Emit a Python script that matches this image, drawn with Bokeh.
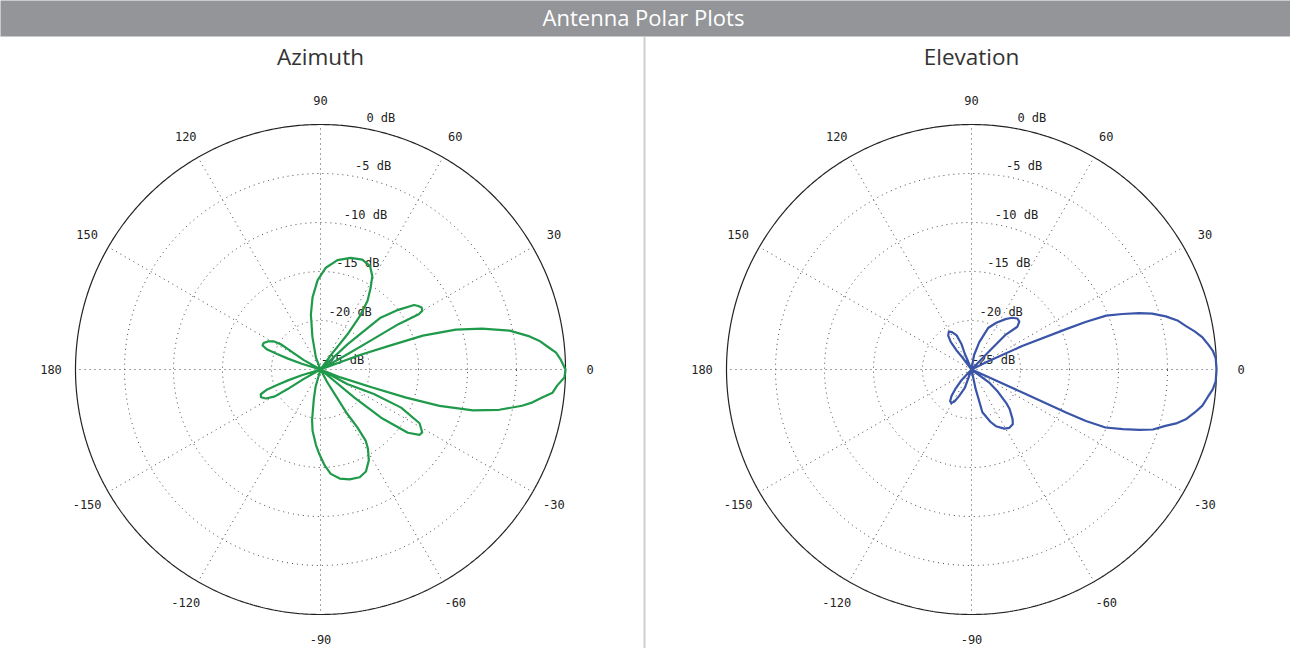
import numpy as np
from bokeh.plotting import figure
from bokeh.models import Range1d
from bokeh.embed import file_html
from bokeh.resources import INLINE
from bokeh.core.properties import value

# ---------------- data ----------------
chart_title = "Antenna Polar Plots"
panel_titles = ["Azimuth", "Elevation"]

ring_db = [0, -5, -10, -15, -20, -25]
ring_labels = ["0 dB", "-5 dB", "-10 dB", "-15 dB", "-20 dB", "-25 dB"]
spoke_angles = [0, 30, 60, 90, 120, 150, 180, 210, 240, 270, 300, 330]
angle_labels = ["0", "30", "60", "90", "120", "150", "180", "-150", "-120", "-90", "-60", "-30"]

# Azimuth pattern traced along the drawn path (angle in degrees, level in dB)
az_angle = [-175,
            -163, -161.5, -160.4, -159.5, -157.5, -155, -152, -149.5, -149.2, -150.5,
            -140,
            -106, -102.7, -99.5, -97.4, -93.5, -90.9, -87.5, -84.4, -80, -75.2, -70, -66, -62, -59,
            -57.6, -57.5, -58.9, -60, -62,
            -50,
            -39.7, -38.5, -35.9, -33.5, -31.7, -28.5, -25.3, -24.7, -28.6,
            -25,
            -21.5, -19.1, -18.2, -17.0, -15.0, -12.7, -10.2, -8.8, -7.2, -5.7, -3.9, -1.9, 0,
            2.5, 4.1, 5.5, 7.5, 9.0, 11.6, 14.2, 16.4, 18.3, 19.0, 20.3,
            25,
            29.5, 29.8, 30.2, 29.3, 30.0, 31.5, 33.0, 34.6, 37.5, 40.8, 43.0,
            47,
            54, 52.5, 53.5, 55.6, 58.5, 61, 64.4, 69.2, 74.9, 81.2, 87, 91.9, 96.3, 99.9, 104, 111,
            120,
            150.5, 148, 147.5, 149, 152, 155, 157.5, 159.5, 160.4, 161.5, 163,
            175]
az_db = [-25,
         -23.0, -21.5, -20.3, -19.2, -18.4, -18.3, -18.7, -19.6, -21.1, -23.0,
         -25,
         -23.2, -21.9, -19.8, -18.7, -17.3, -16.4, -15.2, -14.3, -13.7, -13.4, -13.3, -13.6, -14.5, -15.6,
         -16.4, -18.0, -19.7, -22.0, -23.5,
         -25,
         -20.5, -17.1, -14.0, -12.9, -12.8, -13.5, -15.9, -19.0, -21.9,
         -25,
         -22.8, -19.4, -15.8, -12.3, -8.9, -6.3, -4.1, -3.1, -2.2, -1.2, -0.8, -0.1, 0,
         -0.5, -0.9, -1.6, -2.5, -3.4, -5.3, -8.0, -10.6, -14.0, -17.6, -20.8,
         -25,
         -22.0, -19.8, -15.8, -13.5, -13.0, -12.9, -13.1, -13.4, -15.0, -16.9, -21.2,
         -25,
         -23.0, -20.5, -18.3, -16.5, -15.2, -14.1, -13.3, -13.0, -13.2, -13.7, -14.6, -15.9, -17.6, -19.3, -21.6, -23.7,
         -25,
         -23.0, -21.3, -20.2, -19.4, -18.9, -18.6, -18.6, -19.2, -20.3, -21.5, -23.0,
         -25]

# Elevation pattern traced along the drawn path
el_angle = [-180,
            -133, -130, -127, -124, -121, -118, -115, -110,
            -95,
            -78, -75.7, -70, -66.7, -61, -57, -53, -50.5, -46, -43.9, -40, -36.3,
            -30,
            -24.3, -24.3, -24.5, -24.2, -23.4, -21.5, -19.8, -18.3, -16.2, -14.6, -13.1, -10.9, -8.9, -6.5, -4.7, -2.8, 0,
            2.6, 4.4, 6.0, 7.9, 9.7, 11.5, 13.4, 15.3, 17.2, 18.6, 20.2, 21.8, 22.6, 23.1, 24.9, 26.1,
            35,
            46, 45.5, 43, 45, 48, 52, 56, 62, 68, 74, 80,
            95,
            113, 111.5, 113.5, 117.5, 121, 124.5, 127, 128, 127,
            150, 180]
el_db = [-25,
         -23.5, -22.5, -21.6, -21.1, -21.0, -21.3, -22.0, -23.0,
         -25,
         -23.0, -20.5, -19.3, -18.7, -18.1, -17.9, -18.0, -18.4, -19.4, -20.1, -21.5, -22.8,
         -25,
         -23.0, -19.3, -14.4, -12.2, -10.1, -8.4, -6.8, -5.5, -4.4, -3.3, -2.55, -1.8, -1.15, -0.7, -0.3, -0.05, 0,
         -0.05, -0.3, -0.7, -1.2, -1.9, -2.7, -3.4, -4.45, -5.7, -6.95, -8.6, -10.2, -12.4, -14.5, -19.3, -23.4,
         -25,
         -22.4, -20.0, -18.6, -18.1, -18.0, -18.3, -18.8, -19.6, -20.4, -22.1, -23.5,
         -25,
         -23.2, -22.2, -21.2, -20.7, -20.5, -20.8, -21.5, -22.5, -23.5,
         -25, -25]

# ---------------- layout / style ----------------
PAGE_OFF = 8
W, H = 1290, 648
DB_MIN, DB_MAX = -25.0, 0.0
R_PX = 245.0
CENTERS = [(328.0, 377.0), (979.0, 377.0)]
COLORS = ["#1f9a4a", "#3a55a8"]
MONO = value("DejaVu Sans Mono")
SANS = value("Open Sans")

p = figure(width=W, height=H,
           x_range=Range1d(PAGE_OFF, PAGE_OFF + W),
           y_range=Range1d(PAGE_OFF + H, PAGE_OFF),
           output_backend="svg", toolbar_location=None,
           x_axis_location=None, y_axis_location=None, min_border=0)
p.xgrid.visible = False
p.ygrid.visible = False
p.outline_line_color = None
p.background_fill_color = "white"
p.border_fill_color = "white"


def polar_xy(c, ang_deg, db):
    a = np.radians(np.asarray(ang_deg, dtype=float))
    d = np.clip(np.asarray(db, dtype=float), DB_MIN, DB_MAX)
    r = (d - DB_MIN) / (DB_MAX - DB_MIN) * R_PX
    return c[0] + r * np.cos(a), c[1] - r * np.sin(a)


# header bar
p.quad(left=[4], right=[1302], top=[4], bottom=[44], fill_color="#939598", line_color="#c9cacc", line_width=1)
p.text(x=[651], y=[24.5], text=[chart_title], text_color="white", text_font=SANS,
       text_font_size="22px", text_align="center", text_baseline="middle")

# panel borders
p.segment(x0=[5, 652, 1300], y0=[44, 44, 44], x1=[5, 652, 1300], y1=[664, 664, 664],
          line_color="#cfcfcf", line_width=2)

circ = np.linspace(0, 360, 721)
patterns = [(az_angle, az_db), (el_angle, el_db)]

for i, c in enumerate(CENTERS):
    # title
    p.text(x=[c[0]], y=[64], text=[panel_titles[i]], text_color="#333333", text_font=SANS,
           text_font_size="22.5px", text_align="center", text_baseline="middle")
    # dotted rings
    for db in ring_db[1:-1]:
        xs, ys = polar_xy(c, circ, np.full_like(circ, db))
        p.line(xs, ys, line_color="#444444", line_width=1, line_dash="1 4")
    # spokes
    x0, y0 = polar_xy(c, spoke_angles, [DB_MIN] * len(spoke_angles))
    x1, y1 = polar_xy(c, spoke_angles, [DB_MAX] * len(spoke_angles))
    p.segment(x0=x0, y0=y0, x1=x1, y1=y1, line_color="#444444", line_width=1, line_dash="1 4")
    # outer circle
    xs, ys = polar_xy(c, circ, np.full_like(circ, DB_MAX))
    p.line(xs, ys, line_color="#222222", line_width=1.2)
    # angle labels
    lx, ly = polar_xy(c, spoke_angles, [DB_MAX] * len(spoke_angles))
    lx = c[0] + (lx - c[0]) * 1.1
    ly = c[1] + (ly - c[1]) * 1.1
    p.text(x=lx, y=ly, text=angle_labels, text_color="#222222", text_font=MONO,
           text_font_size="12px", text_align="center", text_baseline="middle")
    # dB ring labels
    rx, ry = polar_xy(c, [81] * len(ring_db), ring_db)
    p.text(x=rx + 22, y=ry - 9.5, text=ring_labels, text_color="#222222", text_font=MONO,
           text_font_size="12px", text_align="center", text_baseline="middle")
    # pattern
    px, py = polar_xy(c, patterns[i][0], patterns[i][1])
    p.line(px, py, line_color=COLORS[i], line_width=2.2, line_join="round")

open("out.html", "w").write(file_html(p, INLINE))
